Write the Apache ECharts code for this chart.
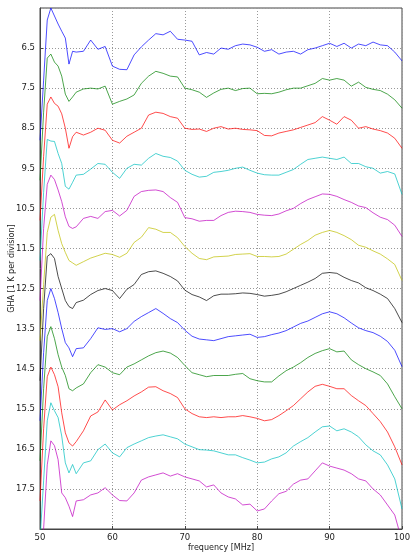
<!DOCTYPE html>
<html>
<head>
<meta charset="utf-8">
<script src="https://cdn.jsdelivr.net/npm/echarts@6/dist/echarts.min.js"></script>
<style>
  html, body { margin: 0; padding: 0; background: #fff; }
  #chart { width: 410px; height: 552px; }
</style>
</head>
<body>
<div id="chart"></div>
<script>
// frequency grid (MHz)
const freqMHz = [50, 50.5, 51, 51.5, 52, 52.5, 53, 53.5, 54, 54.5, 55,
  56, 57, 58, 59, 60, 61, 62, 63, 64, 65, 66, 67, 68, 69, 70,
  71, 72, 73, 74, 75, 76, 77, 78, 79, 80, 81, 82, 83, 84, 85,
  86, 87, 88, 89, 90, 91, 92, 93, 94, 95, 96, 97, 98, 99, 100]

// GHA of each trace (hours) - also its offset on the plot
const gha = [6.5, 7.5, 8.5, 9.5, 10.5, 11.5, 12.5, 13.5, 14.5, 15.5, 16.5, 17.5]

// residual temperature per trace, in K (up = positive)
const tr065 = [-2.3, -0.8, 0.7, 1.0, 0.8, 0.6, 0.42, 0.25, -0.4, -0.08, -0.1,
  -0.08, 0.2, -0.03, 0.04, -0.45, -0.53, -0.54, -0.17, 0.03, 0.2, 0.36, 0.33, 0.42, 0.22, 0.2,
  0.17, -0.17, -0.11, -0.15, 0, -0.03, 0.06, 0.1, 0.08, 0.02, -0.08, -0.04, -0.15, -0.1, -0.08,
  -0.15, -0.04, 0, 0.06, 0.12, 0.04, 0.12, 0, 0.1, 0.06, 0.15, 0.08, 0.06, -0.1, -0.32]
const tr075 = [-2.3, -0.6, 0.75, 0.85, 0.65, 0.55, 0.3, -0.15, -0.33, -0.22, -0.1,
  -0.02, 0, -0.02, 0.05, -0.4, -0.33, -0.27, -0.17, 0.12, 0.3, 0.42, 0.37, 0.3, 0.28, 0,
  -0.04, -0.1, -0.23, -0.12, -0.03, 0, -0.06, -0.01, 0, -0.14, -0.13, -0.14, -0.1, -0.04, 0,
  0, 0.06, 0.12, 0.24, 0.2, 0.24, 0.2, 0.05, 0.15, 0.02, -0.03, -0.06, -0.15, -0.29, -0.5]
const tr085 = [-2.3, -0.7, 0.6, 0.78, 0.62, 0.55, 0.36, 0, -0.5, -0.21, -0.1,
  -0.17, -0.1, 0, -0.05, -0.3, -0.37, -0.2, -0.1, 0, 0.33, 0.4, 0.37, 0.29, 0.25, 0,
  -0.03, -0.02, -0.08, 0, 0.04, -0.02, 0, -0.03, -0.04, -0.06, -0.18, -0.19, -0.12, -0.08, -0.04,
  0.02, 0.08, 0.14, 0.29, 0.2, 0.1, 0.29, 0.2, 0, 0.04, -0.02, -0.06, -0.12, -0.25, -0.5]
const tr095 = [-2.3, -0.6, 0.72, 0.68, 0.67, 0.37, 0.12, -0.45, -0.52, -0.35, -0.17,
  -0.15, -0.02, 0.12, 0.1, -0.1, -0.25, 0, 0.1, 0.08, 0.25, 0.37, 0.3, 0.27, 0.18, -0.05,
  -0.15, -0.22, -0.2, -0.1, -0.08, -0.05, 0, 0.03, -0.05, -0.12, -0.16, -0.17, -0.17, -0.1, -0.03,
  0.1, 0.22, 0.25, 0.28, 0.25, 0.22, 0.28, 0.12, 0.12, 0.04, 0, -0.12, -0.08, -0.14, -0.65]
const tr105 = [-2.3, -0.5, 0.6, 0.83, 0.72, 0.46, 0.17, -0.21, -0.45, -0.5, -0.46,
  -0.25, -0.2, -0.25, -0.08, -0.05, -0.19, -0.05, 0.3, 0.42, 0.45, 0.46, 0.42, 0.27, 0.15, -0.23,
  -0.26, -0.32, -0.3, -0.3, -0.18, -0.1, -0.07, -0.08, -0.1, -0.15, -0.17, -0.18, -0.14, -0.06, 0,
  0.12, 0.22, 0.29, 0.36, 0.35, 0.3, 0.22, 0.15, 0.06, 0.02, -0.11, -0.22, -0.28, -0.42, -0.7]
const tr115 = [-2.3, -0.9, 0.4, 0.78, 0.85, 0.45, 0.12, -0.1, -0.3, -0.36, -0.42,
  -0.33, -0.24, -0.18, -0.12, -0.15, -0.22, -0.12, 0.15, 0.28, 0.52, 0.48, 0.4, 0.4, 0.27, 0.05,
  -0.12, -0.25, -0.28, -0.21, -0.2, -0.19, -0.15, -0.14, -0.13, -0.2, -0.2, -0.21, -0.2, -0.14, -0.02,
  0.1, 0.2, 0.33, 0.4, 0.45, 0.4, 0.32, 0.22, 0.08, 0.03, -0.06, -0.14, -0.26, -0.4, -0.8]
const tr125 = [-2.3, -0.5, 0.8, 0.87, 0.75, 0.3, 0, -0.3, -0.45, -0.5, -0.35,
  -0.29, -0.15, -0.05, 0, -0.05, -0.25, -0.02, 0.1, 0.35, 0.42, 0.44, 0.38, 0.3, 0.19, -0.04,
  -0.15, -0.21, -0.3, -0.18, -0.14, -0.14, -0.13, -0.11, -0.12, -0.15, -0.19, -0.17, -0.14, -0.08, 0,
  0.08, 0.16, 0.25, 0.38, 0.4, 0.38, 0.28, 0.2, 0.14, 0.02, -0.05, -0.14, -0.25, -0.5, -0.85]
const tr135 = [-2.3, -0.6, 0.7, 1.0, 0.75, 0.4, 0, -0.35, -0.48, -0.7, -0.5,
  -0.48, -0.25, 0.02, -0.02, 0, -0.08, 0, 0.18, 0.3, 0.4, 0.5, 0.38, 0.25, 0.15, -0.04,
  -0.19, -0.26, -0.28, -0.3, -0.25, -0.2, -0.18, -0.16, -0.14, -0.22, -0.2, -0.15, -0.11, -0.05, 0.04,
  0.13, 0.19, 0.28, 0.37, 0.42, 0.37, 0.27, 0.14, 0.02, -0.05, -0.1, -0.19, -0.32, -0.54, -0.95]
const tr145 = [-2.3, -0.5, 0.8, 1.05, 0.75, 0.35, 0.04, -0.17, -0.5, -0.55, -0.48,
  -0.38, -0.1, 0.1, 0.04, -0.1, -0.15, 0.04, 0.12, 0.22, 0.32, 0.4, 0.44, 0.39, 0.28, 0.08,
  -0.1, -0.15, -0.2, -0.17, -0.17, -0.17, -0.14, -0.12, -0.25, -0.3, -0.33, -0.33, -0.18, -0.05, 0.04,
  0.15, 0.28, 0.38, 0.45, 0.5, 0.42, 0.44, 0.22, 0.1, 0, -0.08, -0.17, -0.38, -0.7, -1.0]
const tr155 = [-2.3, -0.5, 0.8, 1.04, 0.85, 0.55, -0.1, -0.6, -0.85, -0.93, -0.82,
  -0.55, -0.18, -0.08, 0.22, -0.03, 0.1, 0.2, 0.32, 0.42, 0.54, 0.55, 0.45, 0.38, 0.28, 0,
  -0.12, -0.2, -0.22, -0.2, -0.22, -0.2, -0.2, -0.17, -0.2, -0.24, -0.3, -0.27, -0.17, -0.05, 0.08,
  0.25, 0.42, 0.56, 0.61, 0.56, 0.5, 0.5, 0.33, 0.2, 0.08, -0.12, -0.32, -0.58, -0.95, -1.4]
const tr165 = [-2.3, -0.8, 0.7, 1.15, 0.95, 0.78, 0.32, -0.35, -0.6, -0.39, -0.62,
  -0.35, -0.3, -0.02, 0.12, -0.1, -0.2, 0.03, 0.12, 0.2, 0.28, 0.32, 0.35, 0.3, 0.25, 0.12,
  0.05, -0.02, -0.03, -0.05, -0.1, -0.15, -0.15, -0.22, -0.28, -0.35, -0.33, -0.25, -0.2, -0.1, 0.07,
  0.18, 0.28, 0.42, 0.55, 0.57, 0.45, 0.5, 0.42, 0.3, 0.1, -0.05, -0.15, -0.4, -0.75, -1.5]
const tr175 = [-2.6, -1.0, 0.6, 1.2, 1.08, 0.73, -0.1, -0.22, -0.43, -0.69, -0.3,
  -0.27, -0.15, -0.1, 0.03, -0.15, -0.29, -0.3, -0.1, 0.22, 0.3, 0.35, 0.4, 0.32, 0.38, 0.3,
  0.25, 0.2, 0.05, 0.1, -0.1, -0.2, -0.25, -0.4, -0.38, -0.55, -0.5, -0.3, -0.12, -0.06, 0.12,
  0.22, 0.25, 0.45, 0.65, 0.57, 0.52, 0.47, 0.38, 0.25, 0.2, 0, -0.15, -0.4, -0.65, -1.3]

const traces = [tr065, tr075, tr085, tr095, tr105, tr115, tr125, tr135, tr145, tr155, tr165, tr175]
const lineColors = ['#0000ff', '#008000', '#ff0000', '#00bfbf', '#bf00bf', '#bfbf00', '#000000']

let chart = echarts.init(document.getElementById('chart'), null, {renderer: 'canvas'})

let series = traces.map((tr, i) => {
  return {
    type: 'line',
    name: 'GHA ' + gha[i],
    showSymbol: false,
    clip: true,
    lineStyle: {width: 1, color: lineColors[i % lineColors.length], opacity: 0.7},
    data: freqMHz.map((f, j) => [f, gha[i] - tr[j]])
  }
})

let axisText = {color: '#222', fontFamily: 'DejaVu Sans', fontSize: 8.5}
let dotted = {show: true, lineStyle: {color: '#999', type: [1, 2], width: 1}}

chart.setOption({
  animation: false,
  grid: {
    left: 40, right: 8, top: 8, bottom: 23,
    containLabel: false, outerBoundsMode: 'none',
    show: true, borderColor: '#444', borderWidth: 1
  },
  xAxis: {
    type: 'value', min: 50, max: 100, interval: 10,
    name: 'frequency [MHz]', nameLocation: 'middle', nameGap: 15, nameMoveOverlap: false,
    nameTextStyle: {color: '#222', fontFamily: 'DejaVu Sans', fontSize: 8},
    axisLine: {show: true, lineStyle: {color: '#444'}},
    axisTick: {show: true, inside: true, length: 3, lineStyle: {color: '#444'}},
    axisLabel: Object.assign({margin: 4}, axisText),
    splitLine: dotted
  },
  yAxis: {
    type: 'value', min: 5.5, max: 18.5, interval: 1, inverse: true,
    name: 'GHA [1 K per division]', nameLocation: 'middle', nameGap: 24, nameRotate: 90,
    nameMoveOverlap: false,
    nameTextStyle: {color: '#222', fontFamily: 'DejaVu Sans', fontSize: 8},
    axisLine: {show: true, lineStyle: {color: '#444'}},
    axisTick: {show: true, inside: true, length: 3, lineStyle: {color: '#444'}},
    axisLabel: Object.assign({margin: 5, showMinLabel: false, showMaxLabel: false,
      formatter: v => v.toFixed(1)}, axisText),
    splitLine: dotted
  },
  series: series
})
</script>
</body>
</html>
